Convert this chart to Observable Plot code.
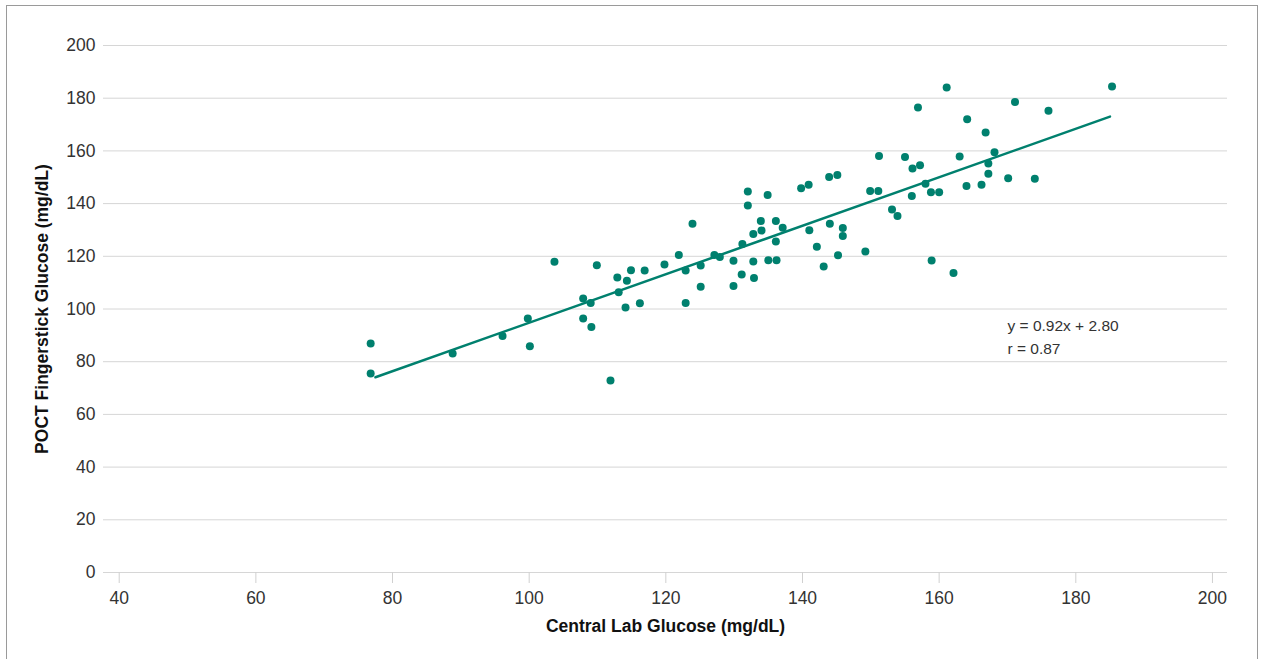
<!DOCTYPE html>
<html>
<head>
<meta charset="utf-8">
<script src="https://cdn.jsdelivr.net/npm/d3@7"></script>
<script src="https://cdn.jsdelivr.net/npm/@observablehq/plot@0.6"></script>
<style>
  html, body { margin: 0; padding: 0; background: #fff; overflow: hidden; }
  #wrap { position: relative; width: 1261px; height: 659px; }
  #frame { position: absolute; left: 6px; top: 5px; width: 1252px; height: 700px; border: 1px solid #9a9a9a; box-sizing: border-box; }
  #chart { position: absolute; left: 0; top: 0; }
</style>
</head>
<body>
<div id="wrap"><div id="frame"></div><div id="chart"></div></div>
<script>
// Central lab glucose (mg/dL)
const labGlucose = [
  76.8, 76.8, 88.8, 96.1, 99.8, 100.1, 103.7, 107.9, 107.9, 109.0,
  109.1, 109.9, 111.9, 112.9, 113.1, 114.1, 114.3, 114.9, 116.2, 116.9,
  119.8, 121.9, 122.9, 122.9, 123.9, 125.1, 125.1, 127.1, 127.9, 129.9,
  129.9, 131.2, 131.1, 132.0, 132.0, 132.8, 132.8, 132.9, 133.9, 134.0,
  134.9, 135.0, 136.1, 136.1, 136.2, 137.1, 139.8, 140.9, 141.0, 142.1,
  143.1, 143.9, 145.1, 144.0, 145.9, 145.9, 145.2, 149.2, 151.2, 149.9,
  151.1, 153.1, 153.9, 155.0, 156.1, 157.2, 156.0, 156.9, 161.1, 158.0,
  158.8, 160.0, 158.9, 162.1, 164.1, 163.0, 164.0, 166.2, 166.8, 168.1,
  167.2, 167.2, 170.1, 174.0, 171.1, 176.0, 185.3
];
// POCT fingerstick glucose (mg/dL)
const poctGlucose = [
  86.9, 75.5, 83.1, 89.8, 96.4, 85.9, 117.9, 104.0, 96.4, 102.3,
  93.2, 116.6, 72.9, 112.0, 106.4, 100.6, 110.7, 114.7, 102.2, 114.6,
  116.9, 120.5, 114.6, 102.3, 132.4, 116.5, 108.4, 120.5, 119.7, 118.3,
  108.7, 124.7, 113.1, 144.6, 139.3, 128.5, 118.0, 111.8, 133.4, 129.8,
  143.3, 118.5, 133.4, 125.6, 118.5, 130.8, 145.8, 147.2, 129.9, 123.6,
  116.1, 150.1, 150.9, 132.4, 130.7, 127.7, 120.4, 121.8, 158.1, 144.8,
  144.8, 137.8, 135.3, 157.7, 153.3, 154.6, 142.9, 176.5, 184.1, 147.5,
  144.3, 144.3, 118.4, 113.7, 172.0, 157.9, 146.7, 147.2, 167.0, 159.5,
  155.2, 151.3, 149.6, 149.4, 178.6, 175.2, 184.4
];
// Regression fit
const slope = 0.92;
const intercept = 2.80;
const rValue = 0.87;
const fitRange = [77.5, 185];

const xTicks = [40, 60, 80, 100, 120, 140, 160, 180, 200];
const yTicks = [0, 20, 40, 60, 80, 100, 120, 140, 160, 180, 200];
const xTitle = "Central Lab Glucose (mg/dL)";
const yTitle = "POCT Fingerstick Glucose (mg/dL)";
const annotation = [`y = ${slope.toFixed(2)}x + ${intercept.toFixed(2)}`, `r = ${rValue.toFixed(2)}`];

const points = labGlucose.map((x, i) => ({x, y: poctGlucose[i]}));
const fitLine = fitRange.map(x => ({x, y: slope * x + intercept}));

const teal = "#00806e";

const chart = Plot.plot({
  width: 1261,
  height: 659,
  marginLeft: 103,
  marginRight: 34,
  marginTop: 45,
  marginBottom: 87,
  style: {fontFamily: "'Liberation Sans', Arial, sans-serif", background: "transparent", color: "#333"},
  x: {domain: [37.7, 202.2]},
  y: {domain: [0, 200]},
  marks: [
    Plot.gridY(yTicks, {stroke: "#d6d6d6", strokeOpacity: 1, strokeWidth: 1}),
    Plot.axisY(yTicks, {tickSize: 0, tickPadding: 8, fontSize: 17.5, fill: "#333", label: null}),
    Plot.axisX(xTicks, {tickSize: 11, tickPadding: 8, fontSize: 17.5, stroke: "#d0d0d0", fill: "#333", label: null}),
    Plot.line(fitLine, {x: "x", y: "y", stroke: teal, strokeWidth: 2.5}),
    Plot.dot(points, {x: "x", y: "y", r: 4, fill: teal, stroke: "none"}),
    Plot.text([annotation.join("\n")], {x: 170, y: 90, text: d => d, textAnchor: "start", lineAnchor: "middle", lineHeight: 1.5, fontSize: 15.5, fill: "#333"}),
    Plot.text([xTitle], {frameAnchor: "bottom", dy: 54, lineAnchor: "middle", textAnchor: "middle", text: d => d, fontSize: 17.5, fontWeight: "bold", fill: "#111"}),
    Plot.text([yTitle], {frameAnchor: "left", dx: -61, rotate: -90, textAnchor: "middle", lineAnchor: "middle", text: d => d, fontSize: 17.5, fontWeight: "bold", fill: "#111"})
  ]
});
document.getElementById("chart").appendChild(chart);
</script>
</body>
</html>
